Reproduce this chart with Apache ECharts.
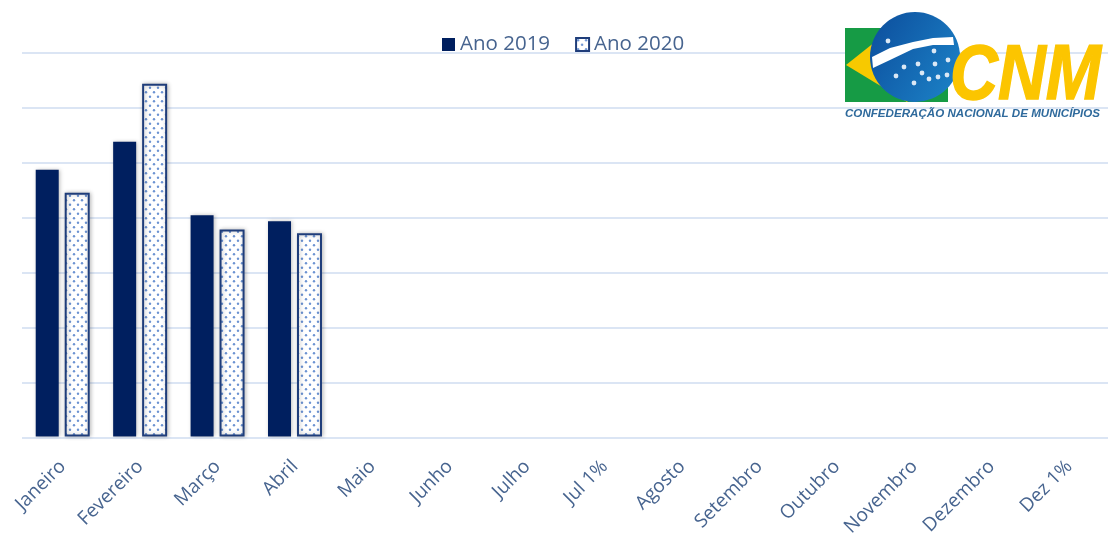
<!DOCTYPE html>
<html>
  <head>
    <meta http-equiv="Content-Type" content="text/html; charset=utf-8" />
    <title>CNM</title>
    <script src="https://cdn.jsdelivr.net/npm/echarts@6/dist/echarts.min.js"></script>
    <style>
      html, body { margin: 0; padding: 0; background: #fff; }
      #bar { width: 1108px; height: 539px; }
    </style>
  </head>
  <body>
    <div id="bar"></div>
    <script>
      var categories = ['Janeiro', 'Fevereiro', 'Março', 'Abril', 'Maio', 'Junho', 'Julho', 'Jul 1%',
        'Agosto', 'Setembro', 'Outubro', 'Novembro', 'Dezembro', 'Dez 1%'];
      var ano2019 = [48.7, 53.8, 40.4, 39.3, null, null, null, null, null, null, null, null, null, null];
      var ano2020 = [44.5, 64.4, 37.8, 37.1, null, null, null, null, null, null, null, null, null, null];
      var textColor = '#47648f';

      // dotted fill of the 2020 bars
      function dots() {
        var c = document.createElement('canvas');
        c.width = 8;
        c.height = 9;
        var ctx = c.getContext('2d');
        ctx.fillStyle = '#fff';
        ctx.fillRect(0, 0, 8, 9);
        ctx.fillStyle = '#6c93d2';
        ctx.beginPath();
        ctx.arc(2, 2.2, 1.2, 0, Math.PI * 2);
        ctx.fill();
        ctx.beginPath();
        ctx.arc(6, 6.7, 1.2, 0, Math.PI * 2);
        ctx.fill();
        return c;
      }

      // logo, top right
      var stars = [[888, 41], [934, 51], [918, 64], [935, 64], [948, 60], [904, 67], [922, 73], [929, 79], [938, 77], [947, 75], [896, 76], [914, 83]];
      var logo = [
        { type: 'rect', z: 10, shape: { x: 845, y: 28, width: 103, height: 74 }, style: { fill: '#169b45' } },
        { type: 'polygon', z: 10, shape: { points: [[846, 65], [890, 30], [940, 65], [907, 102]] }, style: { fill: '#f7c900' } },
        {
          type: 'circle',
          z: 10,
          shape: { cx: 915, cy: 57, r: 45 },
          style: {
            fill: {
              type: 'linear', x: 0, y: 0, x2: 1, y2: 0.6,
              colorStops: [{ offset: 0, color: '#0c4d9c' }, { offset: 1, color: '#1a7cc2' }]
            }
          }
        },
        {
          type: 'polygon',
          z: 11,
          shape: { points: [[872, 57], [890, 48], [913, 42], [933, 38], [953, 37], [954, 45], [933, 45], [913, 49], [890, 60], [873, 68]] },
          style: { fill: '#fff' }
        }
      ];
      stars.forEach(function (s) {
        logo.push({ type: 'circle', z: 11, shape: { cx: s[0], cy: s[1], r: 2.4 }, style: { fill: '#dbe8f5' } });
      });
      logo.push({
        type: 'text', z: 12, x: 950, y: 38, scaleX: 0.85,
        style: { text: 'CNM', fill: '#fcc500', stroke: '#fcc500', lineWidth: 1.5, font: 'italic bold 78px "Liberation Sans"' }
      });
      logo.push({
        type: 'text', z: 12, x: 845, y: 108,
        style: { text: 'CONFEDERAÇÃO NACIONAL DE MUNICÍPIOS', fill: '#2f6a9c', font: 'italic bold 11.6px "Liberation Sans"' }
      });

      var myChart1 = echarts.init(document.getElementById('bar'), null, { renderer: 'canvas' });
      myChart1.setOption({
        backgroundColor: '#fff',
        animation: false,
        legend: {
          top: 34,
          left: 442,
          padding: 0,
          icon: 'rect',
          itemWidth: 13,
          itemHeight: 13,
          itemGap: 25,
          textStyle: { color: textColor, fontSize: 20.5, fontFamily: 'Open Sans' },
          data: ['Ano 2019', 'Ano 2020']
        },
        // two grids: the second one only carries the gridlines, which start left of the bars
        grid: [
          { left: 24, top: 53, width: 1092, height: 385 },
          { left: 22, top: 53, right: 0, height: 385 }
        ],
        xAxis: [
          {
            type: 'category',
            data: categories,
            axisLine: { show: false },
            axisTick: { show: false },
            axisLabel: { rotate: 45, interval: 0, margin: 27, color: textColor, fontSize: 19, fontFamily: 'Open Sans' }
          },
          { type: 'value', gridIndex: 1, min: 0, max: 1, show: false }
        ],
        yAxis: [
          { type: 'value', min: 0, max: 70, interval: 10, show: false },
          {
            type: 'value',
            gridIndex: 1,
            min: 0,
            max: 70,
            interval: 10,
            axisLine: { show: false },
            axisTick: { show: false },
            axisLabel: { show: false },
            splitLine: { show: true, lineStyle: { color: '#dbe5f4', width: 2 } }
          }
        ],
        series: [
          {
            name: 'Ano 2019',
            type: 'bar',
            barWidth: 23,
            barGap: '26%',
            data: ano2019,
            itemStyle: { color: '#001f5f', shadowColor: 'rgba(0,0,0,0.25)', shadowBlur: 4, shadowOffsetX: 1 }
          },
          {
            name: 'Ano 2020',
            type: 'bar',
            barWidth: 25,
            barGap: '26%',
            data: ano2020,
            itemStyle: {
              color: { image: dots(), repeat: 'repeat' },
              borderColor: '#1f3d7a',
              borderWidth: 2,
              shadowColor: 'rgba(0,0,0,0.25)',
              shadowBlur: 4,
              shadowOffsetX: 1
            }
          }
        ],
        graphic: logo
      });
    </script>
  </body>
</html>
